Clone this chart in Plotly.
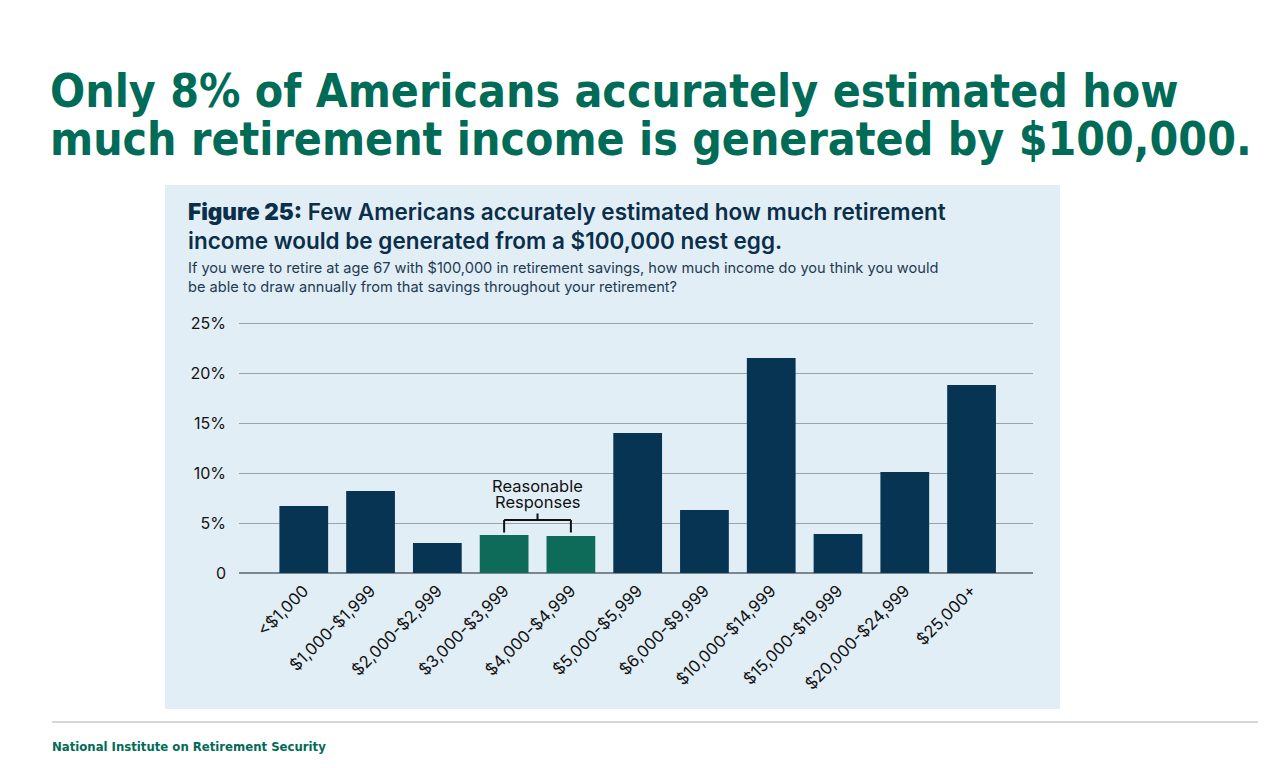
import plotly.graph_objects as go

categories = ["<$1,000", "$1,000-$1,999", "$2,000-$2,999", "$3,000-$3,999",
              "$4,000-$4,999", "$5,000-$5,999", "$6,000-$9,999", "$10,000-$14,999",
              "$15,000-$19,999", "$20,000-$24,999", "$25,000+"]
values = [6.7, 8.2, 3.0, 3.8, 3.7, 14.0, 6.3, 21.5, 3.9, 10.1, 18.8]
reasonable = [False, False, False, True, True, False, False, False, False, False, False]

y_ticks = [0, 5, 10, 15, 20, 25]
y_ticktext = ["0", "5%", "10%", "15%", "20%", "25%"]

NAVY = "#063452"
TEAL = "#0e6b5a"
GREEN = "#006b57"
TEXT = "#0b2f4a"

# page puts the figure 8px in from the top-left corner
OFF = 8
W, H = 1283 - 2 * OFF, 768 - 2 * OFF
PL, PR, PT, PB = 239, 1033, 320, 573   # plot area in page pixels
YMAX = 25.3

colors = [TEAL if r else NAVY for r in reasonable]


def fx(x):
    return (x - PL) / (PR - PL)


def fy(y):
    return (PB - y) / (PB - PT)


fig = go.Figure()
fig.add_trace(go.Bar(x=categories, y=values, marker=dict(color=colors, line=dict(width=0)),
                     hoverinfo="x+y"))

fig.update_layout(
    width=W, height=H,
    margin=dict(l=PL - OFF, r=W - (PR - OFF), t=PT - OFF, b=H - (PB - OFF)),
    paper_bgcolor="white", plot_bgcolor="rgba(0,0,0,0)",
    bargap=0.27, showlegend=False,
    font=dict(family="Inter, Lato, sans-serif", color="#1a1a1a"),
)
fig.update_xaxes(range=[-0.97, 10.92], tickangle=-45, showgrid=False,
                 tickfont=dict(size=16.5, color="#111111"), ticks="", showline=False,
                 ticklabelstandoff=4)
fig.update_yaxes(range=[0, YMAX], tickvals=y_ticks, ticktext=y_ticktext,
                 showgrid=True, gridcolor="#98a3ab", gridwidth=1.2,
                 zeroline=True, zerolinecolor="#7d868c", zerolinewidth=2,
                 tickfont=dict(size=16, color="#111111"), ticklabelstandoff=12)

# light blue panel behind the chart
fig.add_shape(type="rect", xref="paper", yref="paper", layer="below",
              x0=fx(165), x1=fx(1060), y0=fy(709), y1=fy(185),
              fillcolor="#e1eef6", line=dict(width=0))

# footer rule
fig.add_shape(type="line", xref="paper", yref="paper",
              x0=fx(52), x1=fx(1258), y0=fy(722), y1=fy(722),
              line=dict(color="#d6d6d6", width=2))

# bracket for reasonable responses
bk = dict(color="#111111", width=2)
fig.add_shape(type="line", x0=3, x1=4, y0=5.3, y1=5.3, line=bk)
fig.add_shape(type="line", x0=3, x1=3, y0=4.05, y1=5.3, line=bk)
fig.add_shape(type="line", x0=4, x1=4, y0=4.05, y1=5.3, line=bk)
fig.add_shape(type="line", x0=3.5, x1=3.5, y0=5.3, y1=5.95, line=bk)
fig.add_annotation(x=3.5, y=8.7, text="Reasonable", showarrow=False,
                   yanchor="middle", font=dict(size=16.5, color="#111111"))
fig.add_annotation(x=3.5, y=7.1, text="Responses", showarrow=False,
                   yanchor="middle", font=dict(size=16.5, color="#111111"))


def px_annot(x, y, text, **kw):
    fig.add_annotation(xref="paper", yref="paper", x=fx(x), y=fy(y),
                       text=text, showarrow=False, xanchor="left", yanchor="middle",
                       align="left", **kw)


title_font = dict(family="DejaVu Sans Condensed, DejaVu Sans", size=46, color=GREEN, weight="bold")
px_annot(48, 91, "Only 8% of Americans accurately estimated how", font=title_font)
px_annot(48, 139, "much retirement income is generated by $100,000.", font=title_font)
px_annot(186, 226, "<span style='font-weight:900'>Figure 25:</span> Few Americans accurately estimated how much retirement<br>"
                   "income would be generated from a $100,000 nest egg.",
         font=dict(family="Inter", size=22.5, color=TEXT, weight=600))
px_annot(186, 277, "If you were to retire at age 67 with $100,000 in retirement savings, how much income do you think you would<br>"
                   "be able to draw annually from that savings throughout your retirement?",
         font=dict(family="Inter", size=14.6, color="#1f3a52"))
px_annot(50, 746, "National Institute on Retirement Security",
         font=dict(family="DejaVu Sans Condensed, DejaVu Sans", size=13, color=GREEN, weight="bold"))

fig.write_html("out.html")
